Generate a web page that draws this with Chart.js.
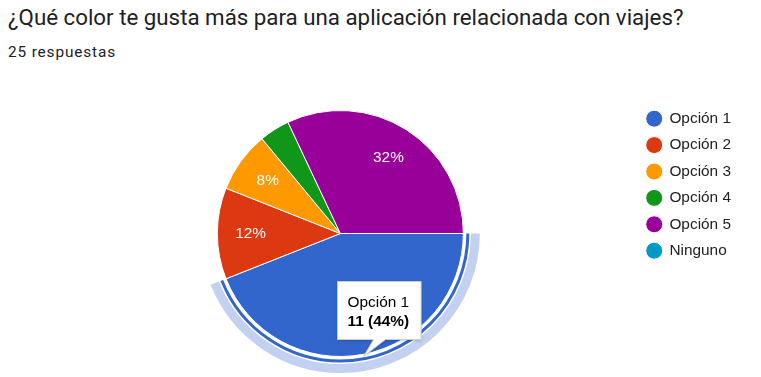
<!DOCTYPE html>
<html>
<head>
<meta charset="utf-8">
<script src="https://cdn.jsdelivr.net/npm/chart.js@4.4.1/dist/chart.umd.min.js"></script>
<style>
  html, body { margin: 0; padding: 0; background: #fff; }
  #wrap { position: relative; width: 761px; height: 377px; overflow: hidden; }
  #title { position: absolute; left: 8px; top: 6px; font: 22.3px Roboto, sans-serif; line-height: 22px; color: #202124; white-space: nowrap; }
  #sub { position: absolute; left: 8px; top: 44px; font: 15.4px Roboto, sans-serif; line-height: 16px; letter-spacing: 0.85px; color: #202124; white-space: nowrap; }
  canvas { position: absolute; left: 0; top: 0; }
</style>
</head>
<body>
<div id="wrap">
  <div id="title">¿Qué color te gusta más para una aplicación relacionada con viajes?</div>
  <div id="sub">25 respuestas</div>
  <canvas id="pie" width="761" height="377"></canvas>
</div>
<script>
const categories = ['Opción 1', 'Opción 2', 'Opción 3', 'Opción 4', 'Opción 5', 'Ninguno'];
const responses = [11, 3, 2, 1, 8, 0];
const sliceColors = ['#3366cc', '#dc3912', '#ff9900', '#109618', '#990099', '#0099c6'];
const highlighted = 0;

const total = responses.reduce((a, b) => a + b, 0);
const pct = v => Math.round(v / total * 100) + '%';

// hover ring around the highlighted slice, like the google forms chart
const hoverRing = {
  id: 'hoverRing',
  afterDatasetsDraw(chart) {
    const arc = chart.getDatasetMeta(0).data[highlighted];
    const { x, y, startAngle, endAngle, outerRadius } = arc.getProps(['x', 'y', 'startAngle', 'endAngle', 'outerRadius'], true);
    const ctx = chart.ctx;
    ctx.save();
    ctx.beginPath();
    ctx.arc(x, y, outerRadius + 12, startAngle, endAngle);
    ctx.strokeStyle = '#c3d1f0';
    ctx.lineWidth = 9;
    ctx.stroke();
    ctx.beginPath();
    ctx.arc(x, y, outerRadius + 4.5, startAngle, endAngle);
    ctx.strokeStyle = sliceColors[highlighted];
    ctx.lineWidth = 3;
    ctx.stroke();
    ctx.restore();
  }
};

const sliceLabels = {
  id: 'sliceLabels',
  afterDatasetsDraw(chart) {
    const ctx = chart.ctx;
    ctx.save();
    ctx.font = '15.4px Arial';
    ctx.fillStyle = '#fff';
    ctx.textAlign = 'center';
    ctx.textBaseline = 'middle';
    chart.getDatasetMeta(0).data.forEach((arc, i) => {
      if (responses[i] / total < 0.05) return;
      const { x, y, startAngle, endAngle, outerRadius } = arc.getProps(['x', 'y', 'startAngle', 'endAngle', 'outerRadius'], true);
      const mid = (startAngle + endAngle) / 2;
      const r = outerRadius * 0.73;
      ctx.fillText(pct(responses[i]), x + Math.cos(mid) * r, y + Math.sin(mid) * r);
    });
    ctx.restore();
  }
};

const fakeTooltip = {
  id: 'fakeTooltip',
  afterDraw(chart) {
    const arc = chart.getDatasetMeta(0).data[highlighted];
    const { x, y, startAngle, endAngle, outerRadius } = arc.getProps(['x', 'y', 'startAngle', 'endAngle', 'outerRadius'], true);
    const mid = (startAngle + endAngle) / 2;
    const px = x + Math.cos(mid) * (outerRadius + 2);
    const py = y + Math.sin(mid) * (outerRadius + 2);
    const ctx = chart.ctx;
    const line1 = categories[highlighted];
    const line2 = responses[highlighted] + ' (' + pct(responses[highlighted]) + ')';
    ctx.save();
    ctx.font = '15.4px Arial';
    const w1 = ctx.measureText(line1).width;
    ctx.font = 'bold 15.4px Arial';
    const w2 = ctx.measureText(line2).width;
    const w = Math.max(w1, w2) + 22;
    const h = 58;
    const left = Math.round(px - 27) + 0.5;
    const bottom = Math.round(py - 17) + 0.5;
    const top = bottom - h;
    ctx.beginPath();
    ctx.moveTo(left, top);
    ctx.lineTo(left + w, top);
    ctx.lineTo(left + w, bottom);
    ctx.lineTo(left + 48, bottom);
    ctx.lineTo(px, py);
    ctx.lineTo(left + 36, bottom);
    ctx.lineTo(left, bottom);
    ctx.closePath();
    ctx.shadowColor = 'rgba(0,0,0,0.25)';
    ctx.shadowBlur = 3;
    ctx.shadowOffsetY = 1;
    ctx.fillStyle = '#fff';
    ctx.fill();
    ctx.shadowColor = 'transparent';
    ctx.strokeStyle = '#cccccc';
    ctx.lineWidth = 1;
    ctx.stroke();
    ctx.fillStyle = '#000';
    ctx.textBaseline = 'alphabetic';
    ctx.font = '15.4px Arial';
    ctx.fillText(line1, left + 10, top + 25);
    ctx.font = 'bold 15.4px Arial';
    ctx.fillText(line2, left + 10, top + 44);
    ctx.restore();
  }
};

new Chart(document.getElementById('pie'), {
  type: 'pie',
  data: {
    labels: categories,
    datasets: [{
      data: responses,
      backgroundColor: sliceColors,
      borderColor: '#fff',
      borderWidth: 1,
      hoverBorderWidth: 1,
      hoverOffset: 0
    }]
  },
  options: {
    responsive: false,
    animation: false,
    events: [],
    rotation: 90,
    layout: { padding: { top: 100, bottom: 20, left: 45, right: 20 } },
    plugins: {
      // empty title only pushes the pie 10px below the legend top
      title: { display: true, text: '', padding: 0, font: { size: 10, lineHeight: 1 } },
      legend: {
        position: 'right',
        align: 'start',
        labels: {
          usePointStyle: true,
          pointStyle: 'circle',
          boxWidth: 15,
          boxHeight: 12,
          padding: 11,
          color: '#222',
          font: { family: 'Arial', size: 15.4 }
        }
      },
      tooltip: { enabled: false }
    }
  },
  plugins: [hoverRing, sliceLabels, fakeTooltip]
});
</script>
</body>
</html>
